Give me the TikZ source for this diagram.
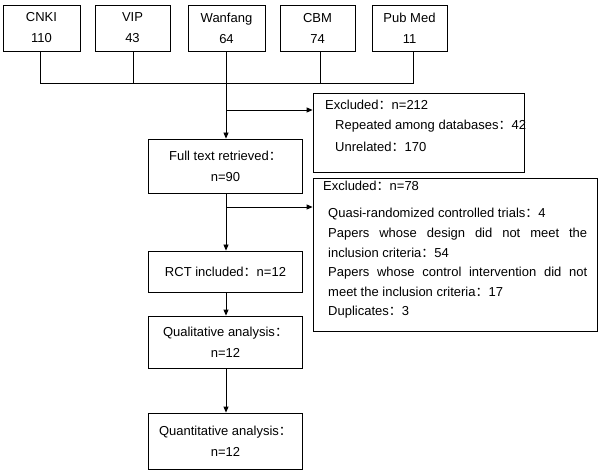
\documentclass[tikz,border=0pt]{standalone}
\usepackage{fontspec}
\setmainfont{Liberation Sans}
\newfontfamily\cjk{Noto Sans CJK SC}
\newcommand{\cc}{{\cjk ：}}
\usetikzlibrary{arrows.meta}
\begin{document}
\begin{tikzpicture}[x=1pt,y=-1pt,
  box/.style={draw,line width=0.8pt,inner sep=0pt,align=center,font=\fontsize{13}{21}\selectfont},
  arr/.style={line width=0.8pt,-{Triangle[length=6pt,width=5pt]}},
  ln/.style={line width=0.8pt},
  tx/.style={anchor=west,inner sep=0pt,font=\fontsize{13}{16}\selectfont}]
\useasboundingbox (0,0) rectangle (600,473);
\node[box,minimum width=77pt,minimum height=46pt] (cnki) at (41.5,28) {CNKI\\110};
\node[box,minimum width=75pt,minimum height=46pt] (vip) at (132.5,28) {VIP\\43};
\node[box,minimum width=77pt,minimum height=46pt] (wan) at (226.5,28) {Wanfang\\64};
\node[box,minimum width=75pt,minimum height=46pt] (cbm) at (317.5,28) {CBM\\74};
\node[box,minimum width=75pt,minimum height=46pt] (pub) at (409.5,28) {Pub Med\\11};
\coordinate (l1) at (40,83); \coordinate (l2) at (133,83); \coordinate (l3) at (226,83);
\coordinate (l4) at (320,83); \coordinate (l5) at (413,83);
\draw[ln] (cnki.south -| l1) -- (l1) -- (l5) -- (pub.south -| l5);
\draw[ln] (vip.south -| l2) -- (l2);
\draw[ln] (wan.south -| l3) -- (l3);
\draw[ln] (cbm.south -| l4) -- (l4);
\node[box,minimum width=154pt,minimum height=54pt] (full) at (225.5,166) {Full text retrieved\cc\\n=90};
\node[box,minimum width=154pt,minimum height=41pt] (rct) at (225.5,271.5) {RCT included\cc n=12};
\node[box,minimum width=154pt,minimum height=52pt] (qual) at (225.5,342) {Qualitative analysis\cc\\n=12};
\node[box,minimum width=154pt,minimum height=56pt] (quan) at (225.5,441) {Quantitative analysis\cc\\n=12};
\node[draw,line width=0.8pt,minimum width=211pt,minimum height=79pt] (ex1) at (418.5,132.5) {};
\node[draw,line width=0.8pt,minimum width=284pt,minimum height=153pt] (ex2) at (455,254.5) {};
\node[tx] at (325,105) {Excluded\cc n=212};
\node[tx] at (335,126) {Repeated among databases\cc 42};
\node[tx] at (335,147) {Unrelated\cc 170};
\node[tx] at (323,186) {Excluded\cc n=78};
\node[tx] at (328,214) {Quasi-randomized controlled trials\cc 4};
\node[tx] at (328,234) {\makebox[259pt][s]{Papers whose design did not meet the}};
\node[tx] at (328,253) {inclusion criteria\cc 54};
\node[tx] at (328,273) {\makebox[259pt][s]{Papers whose control intervention did not}};
\node[tx] at (328,292) {meet the inclusion criteria\cc 17};
\node[tx] at (328,312) {Duplicates\cc 3};
\coordinate (j1) at (226,110);
\coordinate (j2) at (226,207);
\draw[arr] (l3) -- (full.north -| l3);
\draw[ln] (j1) -- ++(0,0);
\draw[arr] (j1) -- (j1 -| ex1.west);
\draw[arr] (full.south -| l3) -- (rct.north -| l3);
\draw[arr] (j2) -- (j2 -| ex2.west);
\draw[arr] (rct.south -| l3) -- (qual.north -| l3);
\draw[arr] (qual.south -| l3) -- (quan.north -| l3);
\end{tikzpicture}
\end{document}
